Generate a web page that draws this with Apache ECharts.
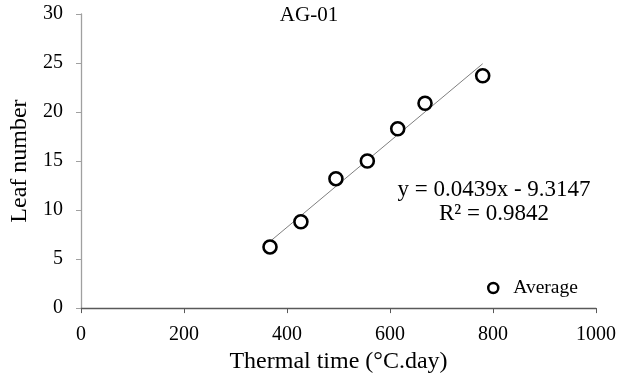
<!DOCTYPE html>
<html><head><meta charset="utf-8">
<script src="https://cdn.jsdelivr.net/npm/echarts@6/dist/echarts.min.js"></script>
<style>html,body{margin:0;padding:0;background:#fff;}#c{width:633px;height:379px;}</style>
</head><body><div id="c"></div>
<script>
const thermalTime = [367, 427, 495, 556, 615, 668, 780];
const leafNumber = [6.24, 8.81, 13.2, 15.0, 18.3, 20.9, 23.7];
const slope = 0.0439;
const intercept = -9.3147;
const xTicks = [0, 200, 400, 600, 800, 1000];
const yTicks = [0, 5, 10, 15, 20, 25, 30];
const seriesName = 'Average';
const titleText = 'AG-01';
const eqText = 'y = 0.0439x - 9.3147';
const r2Text = 'R² = 0.9842';

const xMin = Math.min(...thermalTime), xMax = Math.max(...thermalTime);
const trend = [[xMin, slope * xMin + intercept], [xMax, slope * xMax + intercept]];
const font = '"Liberation Serif", "Times New Roman", serif';

const chart = echarts.init(document.getElementById('c'));
chart.setOption({
  animation: false,
  textStyle: { fontFamily: font, color: '#000' },
  grid: { left: 81, right: 37, top: 14, bottom: 68 },
  title: [
    { text: titleText, left: 309, top: 5, textAlign: 'center', padding: 0,
      textStyle: { fontFamily: font, fontSize: 21, fontWeight: 'normal', color: '#000' } },
    { text: eqText, left: 494, top: 178, textAlign: 'center', padding: 0,
      textStyle: { fontFamily: font, fontSize: 23, fontWeight: 'normal', color: '#000' } },
    { text: r2Text, left: 494, top: 202, textAlign: 'center', padding: 0,
      textStyle: { fontFamily: font, fontSize: 23, fontWeight: 'normal', color: '#000' } }
  ],
  legend: {
    data: [{ name: seriesName, icon: 'circle',
      itemStyle: { color: '#fff', borderColor: '#000', borderWidth: 2.5 } }],
    left: 487, top: 278, padding: 0, itemWidth: 30, itemHeight: 10,
    textStyle: { fontFamily: font, fontSize: 19.5, color: '#000' }
  },
  xAxis: {
    type: 'value', min: 0, max: 1000, interval: 200,
    name: 'Thermal time (°C.day)', nameLocation: 'middle', nameGap: 28,
    nameTextStyle: { fontFamily: font, fontSize: 24, color: '#000' },
    axisLine: { lineStyle: { color: '#595959', width: 1.3 } },
    axisTick: { show: true, length: 5, lineStyle: { color: '#595959' } },
    axisLabel: { fontFamily: font, fontSize: 20, color: '#000', margin: 17,
      formatter: v => xTicks.includes(v) ? String(v) : '' },
    splitLine: { show: false }
  },
  yAxis: {
    type: 'value', min: 0, max: 30, interval: 5,
    name: 'Leaf number', nameLocation: 'middle', nameGap: 40,
    nameTextStyle: { fontFamily: font, fontSize: 24, color: '#000' },
    axisLine: { show: true, lineStyle: { color: '#a0a0a0', width: 1.3 } },
    axisTick: { show: true, length: 5, lineStyle: { color: '#a0a0a0' } },
    axisLabel: { fontFamily: font, fontSize: 20, color: '#000', margin: 18,
      formatter: v => yTicks.includes(v) ? String(v) : '' },
    splitLine: { show: false }
  },
  series: [
    { name: 'trend', type: 'line', data: trend, symbol: 'none', silent: true,
      lineStyle: { color: '#7f7f7f', width: 1 }, z: 1 },
    { name: seriesName, type: 'scatter', data: thermalTime.map((x, i) => [x, leafNumber[i]]),
      symbol: 'circle', symbolSize: 13,
      itemStyle: { color: '#fff', borderColor: '#000', borderWidth: 2.6, opacity: 1 }, z: 3 }
  ]
});
</script></body></html>
